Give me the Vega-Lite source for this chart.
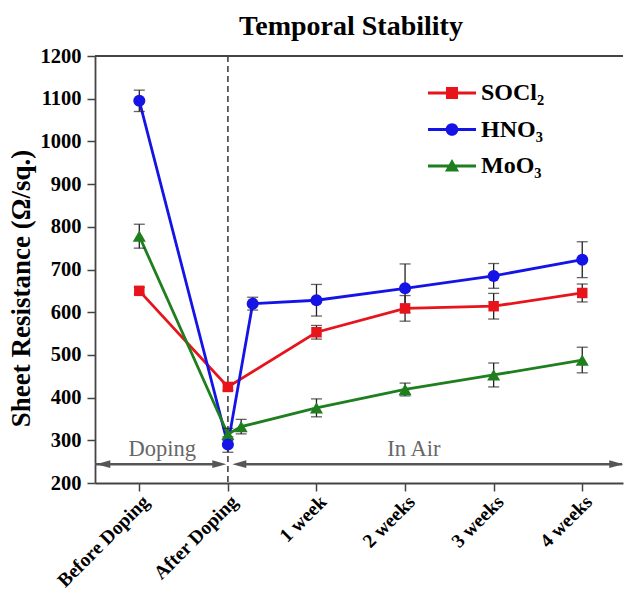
{
  "$schema": "https://vega.github.io/schema/vega-lite/v6.json",
  "width": 528,
  "height": 427,
  "autosize": {"type": "none"},
  "padding": {"left": 95, "top": 56, "right": 2, "bottom": 112},
  "background": "white",
  "config": {
    "view": {"stroke": null},
    "font": "Liberation Serif",
    "axis": {"labelFont": "Liberation Serif", "titleFont": "Liberation Serif", "labelFontWeight": "bold", "titleFontWeight": "bold", "labelColor": "#000", "titleColor": "#000"},
    "legend": {"labelFont": "Liberation Serif", "labelFontWeight": "bold"},
    "text": {"font": "Liberation Serif"}
  },
  "title": {"text": "Temporal Stability", "fontSize": 28, "font": "Liberation Serif", "fontWeight": "bold", "color": "#000", "anchor": "middle", "dx": -8, "offset": 5},
  "datasets": {
    "one": [{"k": 1}],
    "main": [
      {"s": "SOCl₂", "x": 0, "v": 650, "lo": 642, "hi": 658},
      {"s": "SOCl₂", "x": 1, "v": 425, "lo": 417, "hi": 433},
      {"s": "SOCl₂", "x": 2, "v": 553, "lo": 537, "hi": 569},
      {"s": "SOCl₂", "x": 3, "v": 609, "lo": 579, "hi": 639},
      {"s": "SOCl₂", "x": 4, "v": 614, "lo": 584, "hi": 644},
      {"s": "SOCl₂", "x": 5, "v": 645, "lo": 624, "hi": 666},
      {"s": "HNO₃", "x": 0, "v": 1095, "lo": 1070, "hi": 1120},
      {"s": "HNO₃", "x": 1, "v": 290, "lo": 272, "hi": 308},
      {"s": "HNO₃", "x": 1.28, "v": 620, "lo": 605, "hi": 635},
      {"s": "HNO₃", "x": 2, "v": 628, "lo": 591, "hi": 665},
      {"s": "HNO₃", "x": 3, "v": 656, "lo": 599, "hi": 713},
      {"s": "HNO₃", "x": 4, "v": 685, "lo": 656, "hi": 714},
      {"s": "HNO₃", "x": 5, "v": 723, "lo": 681, "hi": 765},
      {"s": "MoO₃", "x": 0, "v": 778, "lo": 750, "hi": 806},
      {"s": "MoO₃", "x": 1, "v": 314, "lo": 300, "hi": 328},
      {"s": "MoO₃", "x": 1.15, "v": 332, "lo": 315, "hi": 349},
      {"s": "MoO₃", "x": 2, "v": 376, "lo": 355, "hi": 397},
      {"s": "MoO₃", "x": 3, "v": 419, "lo": 404, "hi": 434},
      {"s": "MoO₃", "x": 4, "v": 453, "lo": 425, "hi": 481},
      {"s": "MoO₃", "x": 5, "v": 488, "lo": 458, "hi": 518}
    ],
    "arrows": [
      {"x": -0.5, "x2": 0.9},
      {"x": 1.13, "x2": 5.45}
    ],
    "heads": [
      {"x": -0.406, "d": "left"},
      {"x": 0.903, "d": "right"},
      {"x": 1.129, "d": "left"},
      {"x": 5.384, "d": "right"}
    ],
    "notes": [
      {"x": 0.26, "y": 264, "t": "Doping"},
      {"x": 3.1, "y": 264, "t": "In Air"}
    ]
  },
  "layer": [
    {
      "data": {"name": "main"},
      "mark": {"type": "point", "filled": true, "opacity": 0, "size": 900},
      "encoding": {
        "x": {
          "field": "x", "type": "quantitative",
          "scale": {"domain": [-0.5, 5.46], "nice": false, "zero": false},
          "axis": {
            "values": [0, 1, 2, 3, 4, 5],
            "labelExpr": "['Before Doping','After Doping','1 week','2 weeks','3 weeks','4 weeks'][datum.value]",
            "labelAngle": -45, "labelFontSize": 19.5, "labelFont": "Liberation Serif", "labelFontWeight": "bold", "labelColor": "#000",
            "tickSize": 8, "tickWidth": 1.5, "tickColor": "#444", "domainColor": "#444", "domainWidth": 1.8,
            "grid": false, "title": null, "labelOverlap": false, "labelPadding": 1
          }
        },
        "y": {
          "field": "v", "type": "quantitative",
          "scale": {"domain": [200, 1200], "nice": false, "zero": false},
          "axis": {
            "values": [200, 250, 300, 350, 400, 450, 500, 550, 600, 650, 700, 750, 800, 850, 900, 950, 1000, 1050, 1100, 1150, 1200],
            "labelExpr": "datum.value % 100 === 0 ? datum.label : ''",
            "tickSize": 8,
            "tickDash": {"condition": {"test": "datum.value % 100 !== 0", "value": [4.5, 30]}, "value": [1, 0]},
            "labelFontSize": 20.5, "labelFont": "Liberation Serif", "labelFontWeight": "bold", "labelColor": "#000", "labelPadding": 6,
            "labelOverlap": false, "format": "d",
            "tickWidth": 1.5, "tickColor": "#444", "domainColor": "#444", "domainWidth": 1.8, "grid": false,
            "title": "Sheet Resistance (Ω/sq.)", "titleFontSize": 27, "titleFont": "Liberation Serif", "titleFontWeight": "bold", "titleColor": "#000",
            "titlePadding": 5, "titleY": 232
          }
        },
        "color": {
          "field": "s", "type": "nominal",
          "scale": {"domain": ["SOCl₂", "HNO₃", "MoO₃"], "range": ["#e8141c", "#1414e6", "#1f7f1f"]},
          "legend": {
            "orient": "none", "legendX": 342, "legendY": 22, "title": null,
            "labelFontSize": 24, "labelFont": "Liberation Serif", "labelFontWeight": "bold", "labelColor": "#000",
            "symbolSize": 900, "rowPadding": 9.5, "labelOffset": 14, "symbolStrokeWidth": 0, "symbolOpacity": 1, "padding": 0
          }
        },
        "shape": {
          "field": "s", "type": "nominal",
          "scale": {
            "domain": ["SOCl₂", "HNO₃", "MoO₃"],
            "range": [
              "M-1.6,-0.1H1.6V0.1H-1.6Z M-0.4,-0.4H0.4V0.4H-0.4Z",
              "M-1.6,-0.1H1.6V0.1H-1.6Z M-0.42,0A0.42,0.42 0 1,1 0.42,0A0.42,0.42 0 1,1 -0.42,0Z",
              "M-1.6,-0.1H1.6V0.1H-1.6Z M0,-0.47L0.47,0.37H-0.47Z"
            ]
          },
          "legend": {
            "orient": "none", "legendX": 342, "legendY": 22, "title": null,
            "labelFontSize": 24, "labelFont": "Liberation Serif", "labelFontWeight": "bold", "labelColor": "#000",
            "symbolSize": 900, "rowPadding": 9.5, "labelOffset": 14, "symbolStrokeWidth": 0, "symbolOpacity": 1, "padding": 0
          }
        }
      }
    },
    {
      "data": {"name": "one"},
      "mark": {"type": "rule", "strokeDash": [6, 4], "color": "#555", "strokeWidth": 1.8},
      "encoding": {"x": {"datum": 1, "type": "quantitative"}}
    },
    {
      "data": {"name": "one"},
      "mark": {"type": "rule", "color": "#444", "strokeWidth": 1.8},
      "encoding": {"y": {"datum": 1200, "type": "quantitative"}}
    },
    {
      "data": {"name": "arrows"},
      "mark": {"type": "rule", "color": "#555", "strokeWidth": 2.5},
      "encoding": {
        "x": {"field": "x", "type": "quantitative"},
        "x2": {"field": "x2"},
        "y": {"datum": 244, "type": "quantitative"}
      }
    },
    {
      "data": {"name": "heads"},
      "transform": [{"filter": "datum.d === 'left'"}],
      "mark": {"type": "point", "filled": true, "shape": "M-1,0L1,-0.55L1,0.55Z", "size": 196, "color": "#555", "opacity": 1},
      "encoding": {
        "x": {"field": "x", "type": "quantitative"},
        "y": {"datum": 244, "type": "quantitative"}
      }
    },
    {
      "data": {"name": "heads"},
      "transform": [{"filter": "datum.d === 'right'"}],
      "mark": {"type": "point", "filled": true, "shape": "M1,0L-1,-0.55L-1,0.55Z", "size": 196, "color": "#555", "opacity": 1},
      "encoding": {
        "x": {"field": "x", "type": "quantitative"},
        "y": {"datum": 244, "type": "quantitative"}
      }
    },
    {
      "data": {"name": "notes"},
      "mark": {"type": "text", "fontSize": 22.5, "font": "Liberation Serif", "color": "#666", "baseline": "alphabetic", "align": "center"},
      "encoding": {
        "x": {"field": "x", "type": "quantitative"},
        "y": {"field": "y", "type": "quantitative"},
        "text": {"field": "t"}
      }
    },
    {
      "data": {"name": "main"},
      "mark": {"type": "line", "strokeWidth": 2.8},
      "encoding": {
        "x": {"field": "x", "type": "quantitative"},
        "y": {"field": "v", "type": "quantitative"},
        "stroke": {
          "field": "s", "type": "nominal", "legend": null,
          "scale": {"domain": ["SOCl₂", "HNO₃", "MoO₃"], "range": ["#e8141c", "#1414e6", "#1f7f1f"]}
        },
        "order": {"field": "x"}
      }
    },
    {
      "data": {"name": "main"},
      "mark": {"type": "rule", "color": "#222", "strokeWidth": 1.3},
      "encoding": {
        "x": {"field": "x", "type": "quantitative"},
        "y": {"field": "lo", "type": "quantitative"},
        "y2": {"field": "hi"}
      }
    },
    {
      "data": {"name": "main"},
      "mark": {"type": "tick", "orient": "horizontal", "color": "#222", "size": 11, "thickness": 1.3},
      "encoding": {
        "x": {"field": "x", "type": "quantitative"},
        "y": {"field": "lo", "type": "quantitative"}
      }
    },
    {
      "data": {"name": "main"},
      "mark": {"type": "tick", "orient": "horizontal", "color": "#222", "size": 11, "thickness": 1.3},
      "encoding": {
        "x": {"field": "x", "type": "quantitative"},
        "y": {"field": "hi", "type": "quantitative"}
      }
    },
    {
      "data": {"name": "main"},
      "transform": [{"filter": "datum.s === 'MoO₃'"}],
      "mark": {"type": "point", "filled": true, "shape": "triangle-up", "size": 170, "opacity": 1},
      "encoding": {
        "x": {"field": "x", "type": "quantitative"},
        "y": {"field": "v", "type": "quantitative"},
        "fill": {"field": "s", "type": "nominal", "legend": null, "scale": {"domain": ["SOCl₂", "HNO₃", "MoO₃"], "range": ["#e8141c", "#1414e6", "#1f7f1f"]}}
      }
    },
    {
      "data": {"name": "main"},
      "transform": [{"filter": "datum.s === 'SOCl₂'"}],
      "mark": {"type": "point", "filled": true, "shape": "square", "size": 110, "opacity": 1},
      "encoding": {
        "x": {"field": "x", "type": "quantitative"},
        "y": {"field": "v", "type": "quantitative"},
        "fill": {"field": "s", "type": "nominal", "legend": null}
      }
    },
    {
      "data": {"name": "main"},
      "transform": [{"filter": "datum.s === 'HNO₃'"}],
      "mark": {"type": "point", "filled": true, "shape": "circle", "size": 145, "opacity": 1},
      "encoding": {
        "x": {"field": "x", "type": "quantitative"},
        "y": {"field": "v", "type": "quantitative"},
        "fill": {"field": "s", "type": "nominal", "legend": null}
      }
    }
  ]
}
